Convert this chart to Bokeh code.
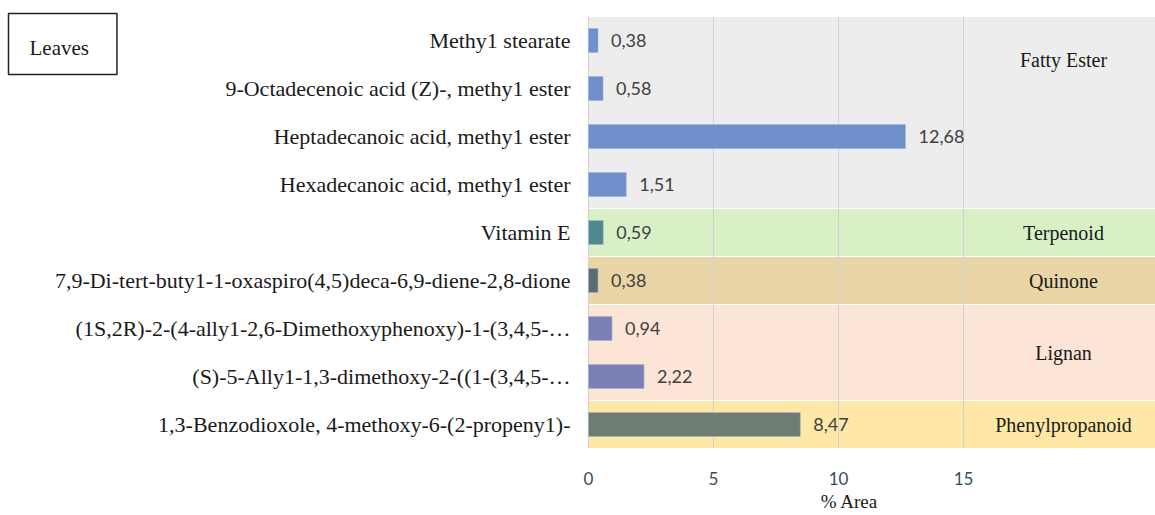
from bokeh.plotting import figure
from bokeh.models import Range1d, FixedTicker, ColumnDataSource, Label, Title
from bokeh.core.properties import value
from bokeh.embed import file_html
from bokeh.resources import INLINE

# ---------------- data ----------------
compounds = [
    "Methy1 stearate",
    "9-Octadecenoic acid (Z)-, methy1 ester",
    "Heptadecanoic acid, methy1 ester",
    "Hexadecanoic acid, methy1 ester",
    "Vitamin E",
    "7,9-Di-tert-buty1-1-oxaspiro(4,5)deca-6,9-diene-2,8-dione",
    "(1S,2R)-2-(4-ally1-2,6-Dimethoxyphenoxy)-1-(3,4,5-\u2026",
    "(S)-5-Ally1-1,3-dimethoxy-2-((1-(3,4,5-\u2026",
    "1,3-Benzodioxole, 4-methoxy-6-(2-propeny1)-",
]
area = [0.38, 0.58, 12.68, 1.51, 0.59, 0.38, 0.94, 2.22, 8.47]
classes = ["Fatty Ester", "Fatty Ester", "Fatty Ester", "Fatty Ester",
           "Terpenoid", "Quinone", "Lignan", "Lignan", "Phenylpropanoid"]
class_names = ["Fatty Ester", "Terpenoid", "Quinone", "Lignan", "Phenylpropanoid"]
x_ticks = [0, 5, 10, 15]
panel_title = "Leaves"
x_title = "% Area"

# ---------------- styles / layout ----------------
band_colors = {"Fatty Ester": "#ededed", "Terpenoid": "#d9f0c6", "Quinone": "#e9d5a5",
               "Lignan": "#fce4d6", "Phenylpropanoid": "#ffe8a5"}
bar_colors = {"Fatty Ester": "#7090cb", "Terpenoid": "#4e8990", "Quinone": "#5c6c70",
              "Lignan": "#7b80b6", "Phenylpropanoid": "#6f7c71"}
label_shift = {"Fatty Ester": -1.1}   # class label nudge (rows)
X_MAX = 22.68
CLASS_LABEL_X = 19
W, H = 1155, 515
AXIS_PX = 588          # canvas x of the value axis (x = 0)
ROWS_TOP_PX = 16       # canvas y of the first row's top edge
BOTTOM = 67            # room below the bars for ticks and title
SERIF = "Liberation Serif"
SANS = "Lato"

n = len(compounds)
rows = [i + 0.5 for i in range(n)]
px_per_unit = (W - AXIS_PX) / X_MAX
row_px = (H - BOTTOM - ROWS_TOP_PX) / n
x_start = -AXIS_PX / px_per_unit
y_top = -ROWS_TOP_PX / row_px

p = figure(width=W, height=H, output_backend="svg", toolbar_location=None,
           x_range=Range1d(x_start, X_MAX), y_range=Range1d(n, y_top),
           y_axis_location=None,
           min_border_left=0, min_border_top=0, min_border_right=0,
           min_border_bottom=BOTTOM)
p.outline_line_color = None
p.background_fill_color = "white"
p.xgrid.visible = False
p.ygrid.visible = False

# class bands (contiguous runs)
runs = []
for i, c in enumerate(classes):
    if runs and runs[-1][0] == c:
        runs[-1][2] += 1
    else:
        runs.append([c, i, 1])
band_src = ColumnDataSource(dict(
    top=[r[1] for r in runs], bottom=[r[1] + r[2] for r in runs],
    left=[0] * len(runs), right=[X_MAX] * len(runs),
    color=[band_colors[r[0]] for r in runs]))
p.quad(left="left", right="right", top="top", bottom="bottom", source=band_src,
       fill_color="color", line_color="white", line_width=1)

# vertical gridlines at the ticks, and the category axis line
p.segment(x0=x_ticks, x1=x_ticks, y0=[0] * len(x_ticks), y1=[n] * len(x_ticks),
          line_color="#cfd3d8", line_width=1)
p.segment(x0=[0], x1=[0], y0=[0], y1=[n], line_color="#d4d4d4", line_width=1.2)

# bars + value labels
bar_src = ColumnDataSource(dict(
    y=rows, v=area, color=[bar_colors[c] for c in classes],
    lab=[f"{v:.2f}".replace(".", ",") for v in area]))
p.hbar(y="y", right="v", left=0, height=0.5, source=bar_src,
       fill_color="color", line_color="#9fb2d9", line_alpha=0.6, line_width=1)
p.text(x="v", y="y", text="lab", source=bar_src, x_offset=13,
       text_baseline="middle", text_align="left", text_font=value(SANS),
       text_font_size="18px", text_color="#404040")

# category (compound) labels
p.text(x=[0] * n, y=rows, text=compounds, x_offset=-18,
       text_align="right", text_baseline="middle", text_font=value(SERIF),
       text_font_size="22px", text_color="#1a1a1a")

# class labels
lab_y = [r[1] + r[2] / 2 + label_shift.get(r[0], 0) for r in runs]
p.text(x=[CLASS_LABEL_X] * len(runs), y=lab_y, text=[r[0] for r in runs],
       text_align="center", text_baseline="middle", text_font=value(SERIF),
       text_font_size="20px", text_color="#1a1a1a")

# value axis
p.xaxis.ticker = FixedTicker(ticks=x_ticks)
p.xaxis.major_label_text_font = SANS
p.xaxis.major_label_text_font_size = "17px"
p.xaxis.major_label_text_color = "#3d4b5c"
p.xaxis.major_label_standoff = 17
p.xaxis.major_tick_line_color = None
p.xaxis.minor_tick_line_color = None
p.xaxis.axis_line_color = None

# axis title, centred where the reference has it
title_w = 58
p.add_layout(Title(text=x_title, align="left",
                   offset=AXIS_PX + 10.45 * px_per_unit - title_w / 2,
                   text_font=SERIF, text_font_style="normal", text_font_size="19px",
                   text_color="#1a1a1a", standoff=3), "below")

# panel label box
p.add_layout(Label(x=x_start + 8 / px_per_unit, y=y_top + 13 / row_px,
                   text=panel_title, anchor="top_left", text_font=SERIF,
                   text_font_size="21px", text_color="#1a1a1a",
                   padding=(21, 28, 22, 15), border_line_color="#222222",
                   border_line_width=1.5, background_fill_color="white"))

open("out.html", "w").write(file_html(p, INLINE))
